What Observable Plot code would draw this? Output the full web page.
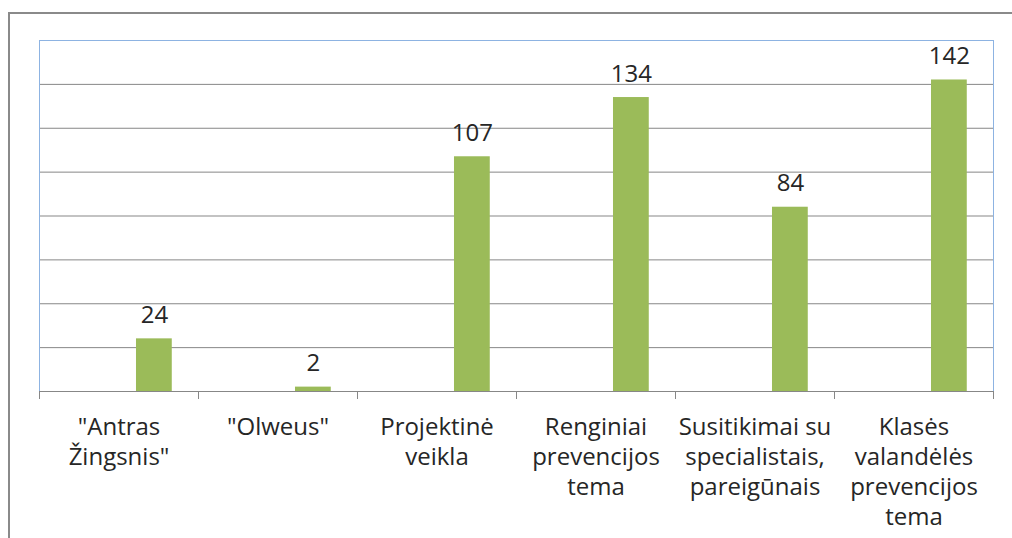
<!DOCTYPE html>
<html>
<head>
<meta charset="utf-8">
<script src="https://cdn.jsdelivr.net/npm/d3@7"></script>
<script src="https://cdn.jsdelivr.net/npm/@observablehq/plot@0.6"></script>
<style>
  html, body { margin: 0; padding: 0; background: #fff; overflow: hidden; width: 1012px; height: 538px; }
  #wrap { position: relative; width: 1012px; height: 538px; }
  #border { position: absolute; left: 8px; top: 12px; width: 1100px; height: 700px;
            border-top: 2px solid #8a8a8a; border-left: 2px solid #8a8a8a; box-sizing: border-box; }
  #chart { position: absolute; left: 0; top: 0; }
</style>
</head>
<body>
<div id="wrap"><div id="border"></div><div id="chart"></div></div>
<script>
const categories = ["Antras Žingsnis", "Olweus", "Projektinė veikla", "Renginiai prevencijos tema", "Susitikimai su specialistais, pareigūnais", "Klasės valandėlės prevencijos tema"];
const tickLabels = ["\"Antras\nŽingsnis\"", "\"Olweus\"", "Projektinė\nveikla", "Renginiai\nprevencijos\ntema", "Susitikimai su\nspecialistais,\npareigūnais", "Klasės\nvalandėlės\nprevencijos\ntema"];
const values = [24, 2, 107, 134, 84, 142];

const data = categories.map((c, i) => ({category: c, value: values[i]}));

const W = 1012, H = 538;
const mL = 39, mR = 19, mT = 40, mB = 147;
const step = (W - mL - mR) / categories.length;
const insetLeft = step * 0.61, insetRight = step * 0.165;
const barDx = (insetLeft + (step - insetRight)) / 2 - step / 2;
const gray = "#878787";
const txt = "#262626";
const fs = 24;

const chart = Plot.plot({
  width: W, height: H,
  marginLeft: mL, marginRight: mR, marginTop: mT, marginBottom: mB,
  style: {fontFamily: "'Open Sans', sans-serif", background: "transparent"},
  x: {domain: categories, padding: 0, axis: null},
  y: {domain: [0, 160], axis: null},
  marks: [
    Plot.gridY({ticks: 8, stroke: gray, strokeOpacity: 1}),
    Plot.frame({stroke: "#8db3e2"}),
    Plot.ruleY([0], {stroke: gray}),
    Plot.axisX({tickSize: 8, tickFormat: () => "", label: null, dx: -step / 2, stroke: gray, strokeOpacity: 1}),
    Plot.axisX([categories[categories.length - 1]], {tickSize: 8, tickFormat: () => "", label: null, dx: step / 2, stroke: gray, strokeOpacity: 1}),
    Plot.axisX({tickSize: 0, tickPadding: 22, label: null, tickFormat: d => tickLabels[categories.indexOf(d)], fontSize: fs, lineHeight: 30 / fs, fill: txt}),
    Plot.barY(data, {x: "category", y: "value", fill: "#9bbb59", insetLeft, insetRight}),
    Plot.text(data, {x: "category", y: "value", text: d => String(d.value), dx: barDx, dy: -16, lineAnchor: "bottom", fontSize: fs, fill: txt})
  ]
});
document.getElementById("chart").appendChild(chart);
</script>
</body>
</html>
